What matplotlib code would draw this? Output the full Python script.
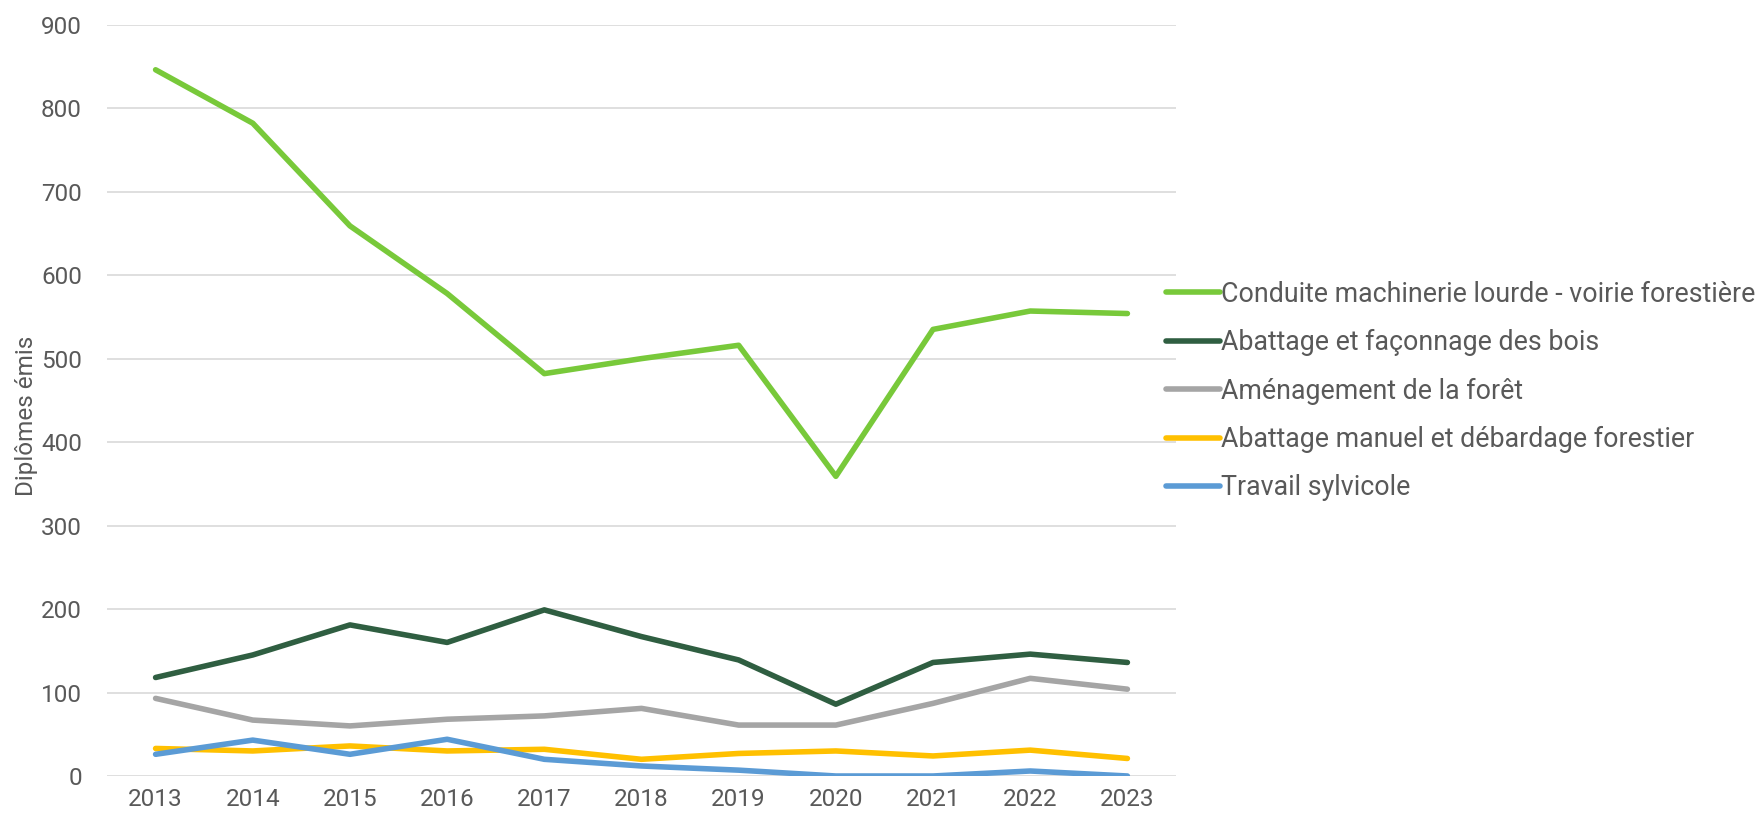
import matplotlib
matplotlib.use("Agg")
import matplotlib.pyplot as plt

years = ["2013", "2014", "2015", "2016", "2017", "2018", "2019", "2020", "2021", "2022", "2023"]
conduite = [846, 782, 659, 578, 482, 500, 516, 359, 535, 557, 554]
abattage_faconnage = [118, 145, 181, 160, 199, 167, 139, 86, 136, 146, 136]
amenagement = [93, 67, 60, 68, 72, 81, 61, 61, 87, 117, 104]
abattage_manuel = [33, 30, 36, 30, 32, 20, 27, 30, 24, 31, 21]
sylvicole = [26, 43, 26, 44, 20, 12, 7, 0, 0, 6, 0]

series = [
    ("Conduite machinerie lourde - voirie forestière", conduite, "#78C93A"),
    ("Abattage et façonnage des bois", abattage_faconnage, "#2F5E41"),
    ("Aménagement de la forêt", amenagement, "#A5A5A5"),
    ("Abattage manuel et débardage forestier", abattage_manuel, "#FFC000"),
    ("Travail sylvicole", sylvicole, "#5B9BD5"),
]

plt.rcParams['font.family'] = ['Roboto', 'DejaVu Sans']
text_color = "#595959"

fig = plt.figure(figsize=(17.61, 8.17), dpi=100)
ax = fig.add_axes([107/1761, 1-776/817, (1176-107)/1761, (776-24.7)/817])

x = list(range(len(years)))
for name, vals, col in series:
    ax.plot(x, vals, color=col, lw=4, label=name, solid_capstyle='round', solid_joinstyle='round')

ax.set_xlim(-0.5, len(years)-0.5)
ax.set_ylim(0, 900)
ax.set_yticks(range(0, 901, 100))
ax.set_xticks(x)
ax.set_xticklabels(years)
ax.grid(axis='y', color='#D9D9D9', lw=1.2)
ax.set_axisbelow(True)
for s in ax.spines.values():
    s.set_visible(False)
ax.tick_params(axis='both', length=0, labelsize=17.5, colors=text_color)
ax.tick_params(axis='y', pad=18)
ax.tick_params(axis='x', pad=9)
ax.set_ylabel("Diplômes émis", fontsize=17.5, color=text_color)
ax.yaxis.set_label_coords(-0.065, 0.48)

fig.legend(loc='center left', bbox_to_anchor=(1166/1761, 1-391/817), frameon=False,
           fontsize=19.3, handlelength=2.02, handletextpad=0.05, labelspacing=0.8,
           labelcolor=text_color, borderpad=0, borderaxespad=0)

fig.savefig("out.png", dpi=100)
